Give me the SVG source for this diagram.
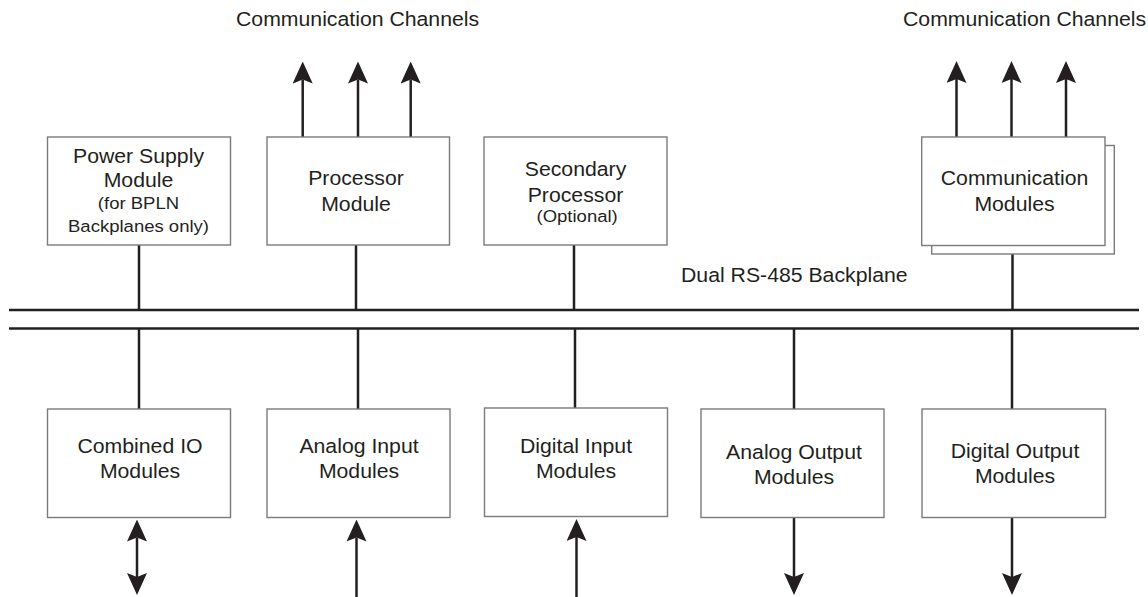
<svg xmlns="http://www.w3.org/2000/svg" width="1148" height="597" viewBox="0 0 1148 597">
<style>
.box{fill:#fff;stroke:#7a7b7e;stroke-width:1.4}
.ln{stroke:#231f20;stroke-width:2.5;fill:none}
.bus{stroke:#231f20;stroke-width:2.6;fill:none}
text{font-family:"Liberation Sans",Arial,Helvetica,sans-serif;fill:#231f20;font-size:19.5px}
.c{text-anchor:middle}
.sm{font-size:17px}
</style>
<defs>
<marker id="ah" viewBox="0 0 22 20" refX="4" refY="10" markerWidth="22" markerHeight="20" markerUnits="userSpaceOnUse" orient="auto-start-reverse">
<path d="M0,0 L22,10 L0,20 L4,10 Z" fill="#231f20"/>
</marker>
</defs>
<rect width="1148" height="597" fill="#fff"/>

<g id="labels">
<g transform="translate(236,0) scale(1.09,1)"><text x="0" y="26.5">Communication Channels</text></g>
<g transform="translate(903,0) scale(1.09,1)"><text x="0" y="26.5">Communication Channels</text></g>
<g transform="translate(681,0) scale(1.09,1)"><text x="0" y="281.7">Dual RS-485 Backplane</text></g>
</g>

<g id="connectors">
<line class="bus" x1="9" y1="310" x2="1139" y2="310"/>
<line class="bus" x1="9" y1="328.5" x2="1139" y2="328.5"/>
<line class="ln" x1="139" y1="245" x2="139" y2="310"/>
<line class="ln" x1="356" y1="245" x2="356" y2="310"/>
<line class="ln" x1="574" y1="245" x2="574" y2="310"/>
<line class="ln" x1="1012.5" y1="245" x2="1012.5" y2="310"/>
<line class="ln" x1="139" y1="328.5" x2="139" y2="409"/>
<line class="ln" x1="358" y1="328.5" x2="358" y2="409"/>
<line class="ln" x1="575" y1="328.5" x2="575" y2="408"/>
<line class="ln" x1="794" y1="328.5" x2="794" y2="409"/>
<line class="ln" x1="1012" y1="328.5" x2="1012" y2="409"/>
<line class="ln" x1="302.7" y1="137" x2="302.7" y2="79.5" marker-end="url(#ah)"/>
<line class="ln" x1="358" y1="137" x2="358" y2="79.5" marker-end="url(#ah)"/>
<line class="ln" x1="410.7" y1="137" x2="410.7" y2="79.5" marker-end="url(#ah)"/>
<line class="ln" x1="956.5" y1="137" x2="956.5" y2="79" marker-end="url(#ah)"/>
<line class="ln" x1="1011.5" y1="137" x2="1011.5" y2="79" marker-end="url(#ah)"/>
<line class="ln" x1="1066" y1="137" x2="1066" y2="79" marker-end="url(#ah)"/>
<line class="ln" x1="137" y1="537.5" x2="137" y2="577" marker-start="url(#ah)" marker-end="url(#ah)"/>
<line class="ln" x1="356.5" y1="597" x2="356.5" y2="537.5" marker-end="url(#ah)"/>
<line class="ln" x1="576.5" y1="597" x2="576.5" y2="537" marker-end="url(#ah)"/>
<line class="ln" x1="794" y1="517.5" x2="794" y2="577" marker-end="url(#ah)"/>
<line class="ln" x1="1012" y1="517.5" x2="1012" y2="577" marker-end="url(#ah)"/>
</g>

<g id="power-supply">
<rect class="box" x="47.5" y="137" width="183" height="108"/>
<g transform="translate(138.5,0) scale(1.09,1)">
<text class="c" x="0" y="162.7">Power Supply</text>
<text class="c" x="0" y="186.7">Module</text>
<text class="c sm" x="0" y="209.5">(for BPLN</text>
<text class="c sm" x="0" y="231.7">Backplanes only)</text>
</g>
</g>

<g id="processor">
<rect class="box" x="267" y="137" width="182.5" height="108"/>
<g transform="translate(356,0) scale(1.09,1)">
<text class="c" x="0" y="185">Processor</text>
<text class="c" x="0" y="210.7">Module</text>
</g>
</g>

<g id="secondary-processor">
<rect class="box" x="484" y="137" width="183" height="108"/>
<g transform="translate(575.5,0) scale(1.09,1)">
<text class="c" x="0" y="176">Secondary</text>
<text class="c" x="0" y="201.7">Processor</text>
<text class="c sm" x="1.5" y="222.5">(Optional)</text>
</g>
</g>

<g id="communication-modules">
<rect class="box" x="931.7" y="145.5" width="182.6" height="108.5"/>
<rect class="box" x="921.7" y="137" width="183.3" height="108.5"/>
<g transform="translate(1014.5,0) scale(1.09,1)">
<text class="c" x="0" y="185">Communication</text>
<text class="c" x="0" y="211">Modules</text>
</g>
</g>

<g id="combined-io">
<rect class="box" x="47.5" y="409" width="183" height="108.5"/>
<g transform="translate(140,0) scale(1.09,1)">
<text class="c" x="0" y="453.5">Combined IO</text>
<text class="c" x="0" y="478.5">Modules</text>
</g>
</g>

<g id="analog-input">
<rect class="box" x="267" y="409" width="183" height="108.5"/>
<g transform="translate(359,0) scale(1.09,1)">
<text class="c" x="0" y="453.5">Analog Input</text>
<text class="c" x="0" y="478.5">Modules</text>
</g>
</g>

<g id="digital-input">
<rect class="box" x="484.5" y="408" width="183" height="108.5"/>
<g transform="translate(576,0) scale(1.09,1)">
<text class="c" x="0" y="453">Digital Input</text>
<text class="c" x="0" y="478">Modules</text>
</g>
</g>

<g id="analog-output">
<rect class="box" x="701" y="409" width="183" height="108.5"/>
<g transform="translate(794,0) scale(1.09,1)">
<text class="c" x="0" y="459">Analog Output</text>
<text class="c" x="0" y="484">Modules</text>
</g>
</g>

<g id="digital-output">
<rect class="box" x="922" y="409" width="183.5" height="108.5"/>
<g transform="translate(1015,0) scale(1.09,1)">
<text class="c" x="0" y="458">Digital Output</text>
<text class="c" x="0" y="483">Modules</text>
</g>
</g>
</svg>
